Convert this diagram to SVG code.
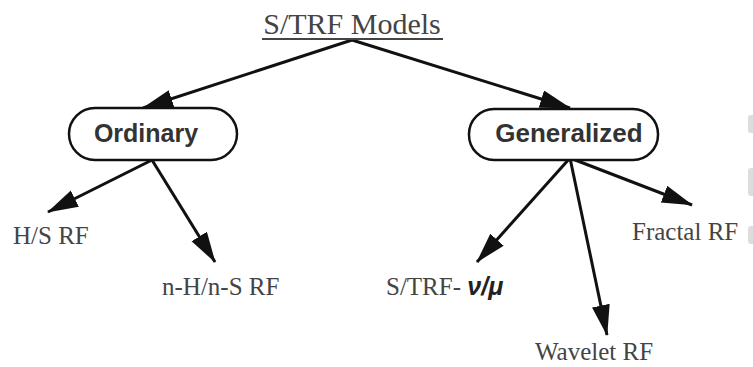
<svg xmlns="http://www.w3.org/2000/svg" width="753" height="367" viewBox="0 0 753 367">
<style>
.lbl{font-family:"Liberation Serif","Times New Roman",serif;font-size:25px;fill:#444}
.box{fill:#fff;stroke:#111;stroke-width:2.5}
.bt{font-family:"Liberation Sans",Arial,sans-serif;font-size:25px;font-weight:bold;fill:#333;text-anchor:middle}
.ln{stroke:#111;stroke-width:3;fill:none;marker-end:url(#ah)}
</style>
<defs>
<marker id="ah" markerUnits="userSpaceOnUse" markerWidth="32" markerHeight="20" refX="30" refY="9" orient="auto">
<path d="M0,0 L31,9 L0,18 Z" fill="#111"/>
</marker>
</defs>
<rect width="753" height="367" fill="#fff"/>
<g id="edge-artifacts" fill="#ddd">
<rect x="748" y="115" width="8" height="18" rx="3"/>
<rect x="748" y="168" width="8" height="28" rx="3"/>
<rect x="748" y="226" width="8" height="18" rx="3"/>
</g>
<g id="connectors">
<line class="ln" x1="352" y1="40" x2="143" y2="108"/>
<line class="ln" x1="352" y1="40" x2="570" y2="108"/>
<line class="ln" x1="152" y1="160" x2="48" y2="212"/>
<line class="ln" x1="152" y1="160" x2="215" y2="262"/>
<line class="ln" x1="570" y1="158" x2="477" y2="262"/>
<line class="ln" x1="570" y1="158" x2="607" y2="335"/>
<line class="ln" x1="570" y1="158" x2="692" y2="205"/>
</g>
<g id="title">
<text class="lbl" x="352" y="34" text-anchor="middle" style="font-size:30px">S/TRF Models</text>
<line x1="262" y1="39" x2="443" y2="39" stroke="#444" stroke-width="2"/>
</g>
<g id="ordinary">
<rect class="box" x="69" y="108" width="168" height="52" rx="26"/>
<text class="bt" x="146" y="142">Ordinary</text>
</g>
<g id="generalized">
<rect class="box" x="469" y="109" width="189" height="51" rx="25"/>
<text class="bt" x="569" y="142" style="font-size:26px">Generalized</text>
</g>
<g id="hs"><text class="lbl" x="13" y="244">H/S RF</text></g>
<g id="nhns"><text class="lbl" x="162" y="295">n-H/n-S RF</text></g>
<g id="strf"><text class="lbl" x="386" y="295">S/TRF- <tspan style="font-family:'Liberation Sans',Arial,sans-serif;font-weight:bold;font-style:italic;fill:#222">ν/μ</tspan></text></g>
<g id="wavelet"><text class="lbl" x="535" y="360">Wavelet RF</text></g>
<g id="fractal"><text class="lbl" x="632" y="240">Fractal RF</text></g>
</svg>
